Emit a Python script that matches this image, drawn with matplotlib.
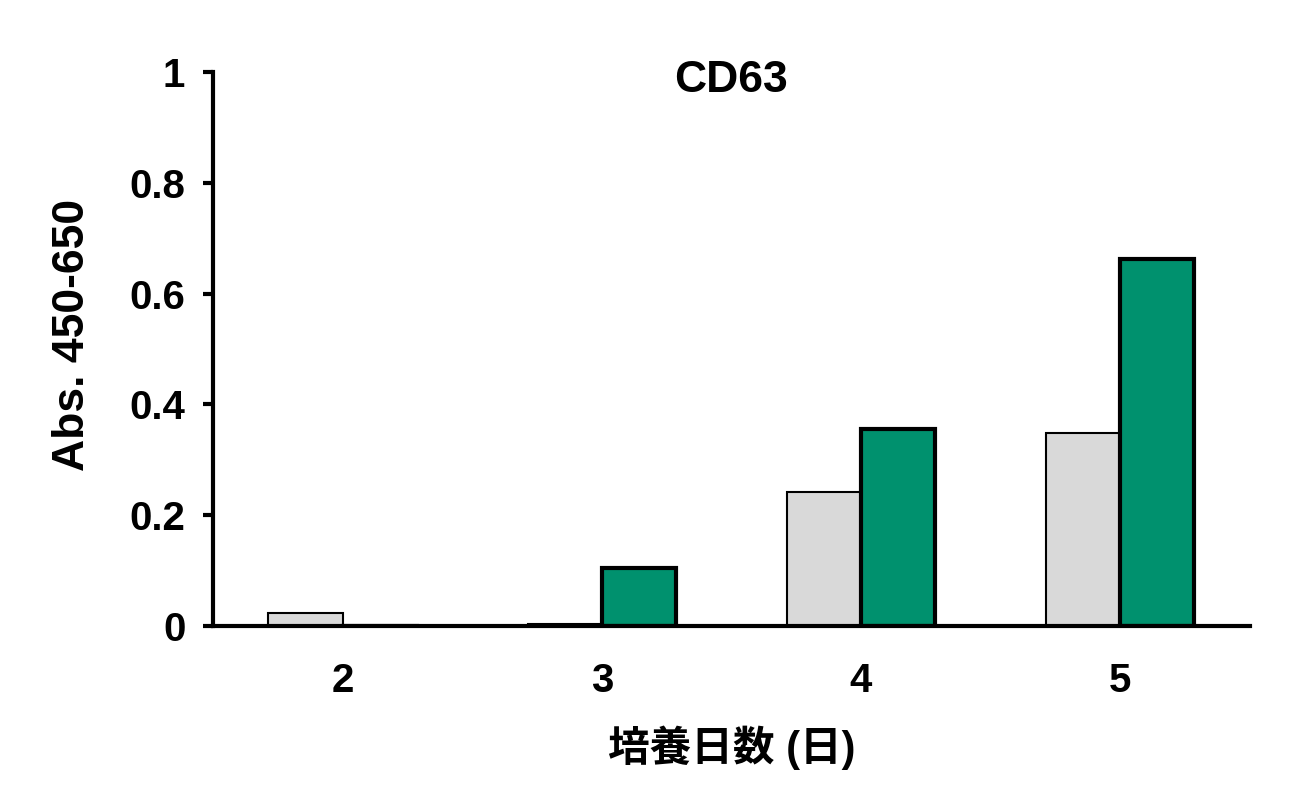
import numpy as np
import matplotlib.pyplot as plt

plt.rcParams['font.family'] = ['Liberation Sans', 'Noto Sans CJK JP']
plt.rcParams['font.weight'] = 'bold'

days = ['2', '3', '4', '5']
control = [0.023, 0.004, 0.241, 0.348]
treated = [-0.002, 0.105, 0.356, 0.662]

fig = plt.figure(figsize=(12.99, 7.95), dpi=100)
ax = fig.add_axes([0.164, 0.2126, 0.798, 0.6968])

x = np.arange(len(days))
w = 0.286
ax.bar(x - w / 2, control, w, color='#d9d9d9', edgecolor='black', linewidth=1.5)
ax.bar(x + w / 2, treated, w, color='#00916e', edgecolor='black', linewidth=3)

ax.set_xlim(-0.5, 3.5)
ax.set_ylim(0, 1)
ax.set_yticks([0, 0.2, 0.4, 0.6, 0.8, 1])
ax.set_yticklabels(['0', '0.2', '0.4', '0.6', '0.8', '1'])
ax.set_xticks(x)
ax.set_xticklabels(days)

for s in ['top', 'right']:
    ax.spines[s].set_visible(False)
for s in ['left', 'bottom']:
    ax.spines[s].set_linewidth(3)
ax.tick_params(axis='y', length=7, width=3, pad=13, labelsize=29)
ax.tick_params(axis='x', length=0, pad=26, labelsize=29)

# title sits just inside the top of the plot area
ax.text(0.5, 0.985, 'CD63', transform=ax.transAxes, ha='center', va='center',
        fontsize=32, fontweight='bold')
ax.set_ylabel('Abs. 450-650', fontsize=32, fontweight='bold', labelpad=26)
ax.yaxis.label.set_y(0.525)
ax.set_xlabel('培養日数 (日)', fontsize=30, fontweight='bold', labelpad=18)

fig.savefig('out.png', dpi=100)
